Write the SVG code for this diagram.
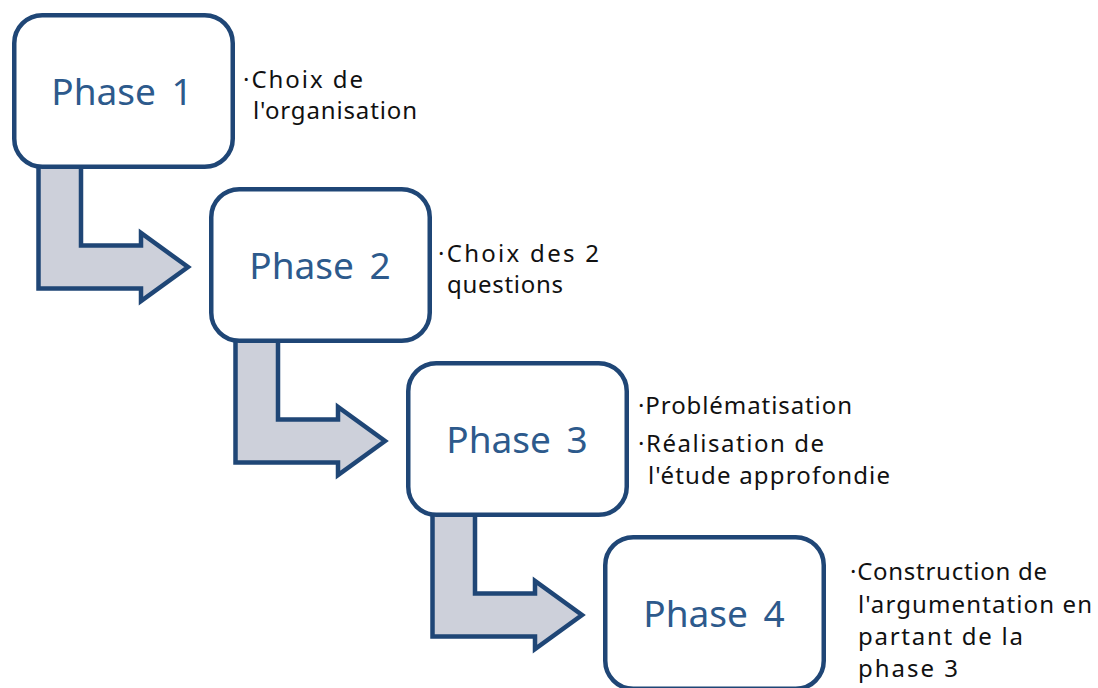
<svg xmlns="http://www.w3.org/2000/svg" width="1098" height="688" viewBox="0 0 1098 688">
<style>
.box{fill:#ffffff;stroke:#1F4676;stroke-width:4.5}
.arr{fill:#CDD0DA;stroke:#1F4676;stroke-width:4.5;stroke-linejoin:miter}
.ph{font-family:"Noto Sans","Open Sans",sans-serif;font-size:37px;fill:#2D5A8C;text-anchor:middle;word-spacing:6px}
.bt{font-family:"Noto Sans","Open Sans",sans-serif;font-size:24px;fill:#111111}
</style>
<rect width="1098" height="688" fill="#ffffff"/>
<g id="connectors">
<polygon class="arr" points="38.5,160 38.5,288.5 141,288.5 141,301 188,267 141,233 141,245.5 81,245.5 81,160"/>
<polygon class="arr" points="235.5,334 235.5,462.5 338,462.5 338,475 385,441 338,407 338,419.5 278,419.5 278,334"/>
<polygon class="arr" points="432.5,508 432.5,636.5 535,636.5 535,649 582,615 535,581 535,593.5 475,593.5 475,508"/>
</g>
<g id="phase1">
<rect class="box" x="14.25" y="15.25" width="218.5" height="151.5" rx="28"/>
<text class="ph" x="122" y="105">Phase 1</text>
</g>
<g id="phase2">
<rect class="box" x="211.25" y="189.25" width="218.5" height="151.5" rx="28"/>
<text class="ph" x="320" y="279">Phase 2</text>
</g>
<g id="phase3">
<rect class="box" x="408.25" y="363.25" width="218.5" height="151.5" rx="28"/>
<text class="ph" x="517" y="453">Phase 3</text>
</g>
<g id="phase4">
<rect class="box" x="605.25" y="537.25" width="218.5" height="151.5" rx="28"/>
<text class="ph" x="714" y="627">Phase 4</text>
</g>
<g id="notes">
<text class="bt" x="243" y="88" textLength="120" lengthAdjust="spacing">·Choix de</text>
<text class="bt" x="253" y="119" textLength="164" lengthAdjust="spacing">l'organisation</text>
<text class="bt" x="438" y="262" textLength="161" lengthAdjust="spacing">·Choix des 2</text>
<text class="bt" x="447" y="293" textLength="116" lengthAdjust="spacing">questions</text>
<text class="bt" x="638" y="414" textLength="214" lengthAdjust="spacing">·Problématisation</text>
<text class="bt" x="638" y="452" textLength="186" lengthAdjust="spacing">·Réalisation de</text>
<text class="bt" x="648" y="484" textLength="242" lengthAdjust="spacing">l'étude approfondie</text>
<text class="bt" x="850" y="580" textLength="197" lengthAdjust="spacing">·Construction de</text>
<text class="bt" x="858" y="613" textLength="234" lengthAdjust="spacing">l'argumentation en</text>
<text class="bt" x="858" y="645" textLength="165" lengthAdjust="spacing">partant de la</text>
<text class="bt" x="858" y="677" textLength="100" lengthAdjust="spacing">phase 3</text>
</g>
</svg>
